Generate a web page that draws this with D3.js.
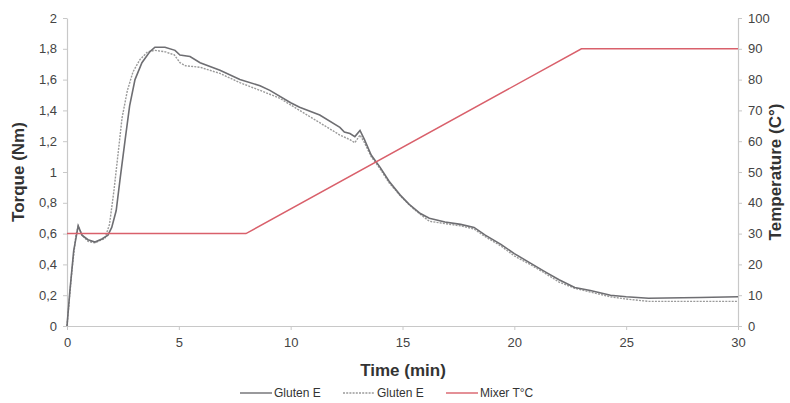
<!DOCTYPE html>
<html><head><meta charset="utf-8">
<script src="https://cdn.jsdelivr.net/npm/d3@7"></script>
<style>
body{margin:0;background:#fff;}
svg{font-family:"Liberation Sans",Arial,sans-serif;}
</style></head>
<body><svg id="c" width="790" height="403"></svg>
<script>
// Data
const solidTime = [0,0.13,0.3,0.5,0.67,0.94,1.25,1.56,1.83,2.0,2.2,2.37,2.6,2.8,3.04,3.35,3.7,3.93,4.38,4.83,5.05,5.5,5.95,6.84,7.73,8.63,9.07,10,10.4,11.3,12.2,12.4,12.65,12.87,13.1,13.3,13.6,14,14.4,14.9,15.3,15.8,16.2,16.9,17.6,18.2,18.7,19.4,20,20.7,21.4,22,22.7,23.4,24.3,25,26,28.3,30];
const solidTorque = [0,0.23,0.49,0.65,0.59,0.56,0.545,0.565,0.59,0.64,0.75,0.95,1.21,1.43,1.6,1.71,1.78,1.81,1.81,1.79,1.76,1.75,1.71,1.66,1.60,1.56,1.53,1.45,1.42,1.37,1.29,1.26,1.25,1.23,1.27,1.21,1.11,1.03,0.94,0.85,0.79,0.73,0.70,0.675,0.66,0.64,0.59,0.53,0.47,0.41,0.35,0.30,0.25,0.23,0.20,0.19,0.18,0.185,0.19];
const dashTime = [0,0.22,0.4,0.5,0.67,0.94,1.25,1.56,1.7,1.9,2.1,2.3,2.46,2.7,2.95,3.26,3.6,3.93,4.4,4.8,5.05,5.3,5.95,6.84,7.73,8.63,9.5,10.4,11.3,12.2,12.65,12.87,13.1,13.3,13.6,14,14.4,15,15.5,16.2,16.9,17.6,18.2,18.7,19.4,20,20.7,21.4,22,22.7,23.4,24.3,25,26,28,30];
const dashTorque = [0,0.36,0.59,0.65,0.59,0.55,0.54,0.56,0.57,0.66,0.88,1.14,1.35,1.53,1.65,1.73,1.78,1.79,1.78,1.76,1.71,1.69,1.68,1.64,1.58,1.53,1.48,1.40,1.32,1.24,1.21,1.19,1.24,1.19,1.10,1.02,0.93,0.83,0.76,0.68,0.665,0.65,0.63,0.58,0.52,0.455,0.40,0.34,0.285,0.245,0.22,0.19,0.175,0.16,0.16,0.16];
const mixerTime = [0,8,23,30];
const mixerTemp = [30,30,90,90];
const xTicks = [0,5,10,15,20,25,30];
const yTicks = [0,0.2,0.4,0.6,0.8,1,1.2,1.4,1.6,1.8,2];
const y2Ticks = [0,10,20,30,40,50,60,70,80,90,100];
const legendLabels = ["Gluten E","Gluten E","Mixer T°C"];

const svg = d3.select("#c");
const L=67,R=738,T=18,B=326;
const x = d3.scaleLinear().domain([0,30]).range([L,R]);
const y = d3.scaleLinear().domain([0,2]).range([B,T]);
const y2 = d3.scaleLinear().domain([0,100]).range([B,T]);
const fmt = d => String(d).replace(".",",");

const axisColor="#c8c8c8", textColor="#444";
function style(g){
  g.select(".domain").attr("stroke",axisColor).attr("stroke-width",1.2);
  g.selectAll(".tick line").attr("stroke",axisColor);
  g.selectAll(".tick text").attr("fill",textColor).style("font-size","13px").style("font-family","Liberation Sans, Arial, sans-serif");
}
svg.append("g").attr("transform",`translate(${L},0)`)
  .call(d3.axisLeft(y).tickValues(yTicks).tickFormat(fmt).tickSize(4).tickSizeOuter(0).tickPadding(6)).call(style);
svg.append("g").attr("transform",`translate(${R},0)`)
  .call(d3.axisRight(y2).tickValues(y2Ticks).tickSize(4).tickSizeOuter(0).tickPadding(6)).call(style);
svg.append("g").attr("transform",`translate(0,${B})`)
  .call(d3.axisBottom(x).tickValues(xTicks).tickSize(4).tickSizeOuter(0).tickPadding(8)).call(style);

const line = d3.line().x(d=>x(d[0])).y(d=>y(d[1]));
const line2 = d3.line().x(d=>x(d[0])).y(d=>y2(d[1]));

svg.append("path").datum(dashTime.map((t,i)=>[t,dashTorque[i]]))
  .attr("d",line).attr("fill","none").attr("stroke","#9a9a9a").attr("stroke-width",1.4).attr("stroke-dasharray","2,1.2");
svg.append("path").datum(solidTime.map((t,i)=>[t,solidTorque[i]]))
  .attr("d",line).attr("fill","none").attr("stroke","#6e6e72").attr("stroke-width",1.6);
svg.append("path").datum(mixerTime.map((t,i)=>[t,mixerTemp[i]]))
  .attr("d",line2).attr("fill","none").attr("stroke","#d9606b").attr("stroke-width",1.5);

svg.append("text").attr("transform","translate(24,172) rotate(-90)").attr("text-anchor","middle")
  .attr("font-weight","bold").attr("font-size","17px").attr("fill","#333").text("Torque (Nm)");
svg.append("text").attr("transform","translate(781,172) rotate(-90)").attr("text-anchor","middle")
  .attr("font-weight","bold").attr("font-size","17px").attr("fill","#333").text("Temperature (C°)");
svg.append("text").attr("x",403).attr("y",376).attr("text-anchor","middle")
  .attr("font-weight","bold").attr("font-size","17px").attr("fill","#333").text("Time (min)");

const lg = [{x:240,c:"#6e6e72",d:null},{x:343,c:"#9a9a9a",d:"2,1.2"},{x:446,c:"#d9606b",d:null}];
lg.forEach((o,i)=>{
  svg.append("line").attr("x1",o.x).attr("x2",o.x+32).attr("y1",393).attr("y2",393)
    .attr("stroke",o.c).attr("stroke-width",1.4).attr("stroke-dasharray",o.d);
  svg.append("text").attr("x",o.x+34).attr("y",397).attr("font-size","12px").attr("fill","#333").text(legendLabels[i]);
});
</script></body></html>
